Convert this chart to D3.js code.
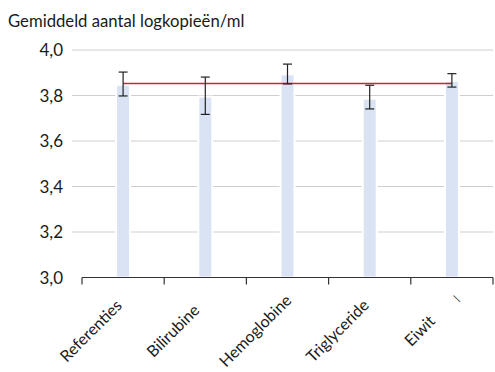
<!DOCTYPE html>
<html>
<head>
<meta charset="utf-8">
<script src="https://cdn.jsdelivr.net/npm/d3@7"></script>
<style>
  html, body { margin: 0; padding: 0; background: #fff; }
  svg { display: block; font-family: Lato, "Noto Sans", sans-serif; }
</style>
</head>
<body>
<svg id="chart" width="495" height="372"></svg>
<script>
// Mean log copies per ml per interfering substance, with error bars
const categories = ["Referenties", "Bilirubine", "Hemoglobine", "Triglyceride", "Eiwit"];
const means      = [3.847, 3.795, 3.893, 3.786, 3.864];
const errLow     = [3.798, 3.717, 3.851, 3.741, 3.837];
const errHigh    = [3.903, 3.881, 3.938, 3.845, 3.896];
const referenceLevel = 3.853;
const yTicks     = [3.0, 3.2, 3.4, 3.6, 3.8, 4.0];
const title      = "Gemiddeld aantal logkopieën/ml";
const strayMark  = "|";

const svg = d3.select("#chart");
const plot = { left: 82, right: 493, top: 50, bottom: 277.5 };

const x = d3.scaleBand().domain(categories).range([plot.left, plot.right]).padding(0);
const y = d3.scaleLinear().domain([3.0, 4.0]).range([plot.bottom, plot.top]);
const fmt = v => d3.format(".1f")(v).replace(".", ",");
const cx = c => x(c) + x.bandwidth() / 2;

// title
svg.append("text")
  .attr("x", 8).attr("y", 27)
  .attr("font-size", 16.7).attr("fill", "#1a1a1a")
  .text(title);

// gridlines
svg.append("g").selectAll("line")
  .data(yTicks.filter(t => t > 3.0))
  .join("line")
  .attr("x1", 72).attr("x2", plot.right)
  .attr("y1", d => y(d)).attr("y2", d => y(d))
  .attr("stroke", "#cfcfcf").attr("stroke-width", 1);

// y tick labels
svg.append("g").selectAll("text")
  .data(yTicks)
  .join("text")
  .attr("x", 63).attr("y", d => y(d))
  .attr("dy", "0.36em")
  .attr("text-anchor", "end")
  .attr("font-size", 17).attr("fill", "#1a1a1a")
  .text(fmt);

// bars
const barW = 14;
svg.append("g").selectAll("rect")
  .data(categories)
  .join("rect")
  .attr("x", d => cx(d) - barW / 2)
  .attr("width", barW)
  .attr("y", (d, i) => y(means[i]))
  .attr("height", (d, i) => y(3.0) - y(means[i]))
  .attr("fill", "#dae3f4")
  .attr("stroke", "#fff").attr("stroke-width", 2);

// reference line
svg.append("line")
  .attr("x1", cx(categories[0]))
  .attr("x2", cx(categories[categories.length - 1]))
  .attr("y1", y(referenceLevel)).attr("y2", y(referenceLevel))
  .attr("stroke", "#e3173e").attr("stroke-width", 1.5);

// error bars
const capW = 9;
const eb = svg.append("g").attr("stroke", "#222").attr("stroke-width", 1.2);
categories.forEach((c, i) => {
  const px = cx(c);
  eb.append("line").attr("x1", px).attr("x2", px).attr("y1", y(errLow[i])).attr("y2", y(errHigh[i]));
  eb.append("line").attr("x1", px - capW / 2).attr("x2", px + capW / 2).attr("y1", y(errLow[i])).attr("y2", y(errLow[i]));
  eb.append("line").attr("x1", px - capW / 2).attr("x2", px + capW / 2).attr("y1", y(errHigh[i])).attr("y2", y(errHigh[i]));
});

// x axis with ticks at band boundaries
const xAxis = svg.append("g").attr("stroke", "#333").attr("stroke-width", 1.2);
xAxis.append("line")
  .attr("x1", plot.left).attr("x2", plot.right)
  .attr("y1", plot.bottom).attr("y2", plot.bottom);
const edges = categories.map(c => x(c)).concat([x.range()[1]]);
xAxis.selectAll("line.tick")
  .data(edges)
  .join("line")
  .attr("class", "tick")
  .attr("x1", d => d).attr("x2", d => d)
  .attr("y1", plot.bottom).attr("y2", plot.bottom + 7);

// rotated category labels, centred under each band
svg.append("g").selectAll("text")
  .data(categories)
  .join("text")
  .attr("transform", d => `translate(${cx(d) - 32},${plot.bottom + 53.5}) rotate(-45)`)
  .attr("text-anchor", "middle")
  .attr("dy", "0.33em")
  .attr("font-size", 16).attr("fill", "#1a1a1a")
  .text(d => d);

// small stray stroke beside the last label
const last = categories[categories.length - 1];
svg.append("text")
  .attr("transform", `translate(${cx(last) + 4.5},${plot.bottom + 21}) rotate(-45)`)
  .attr("text-anchor", "middle")
  .attr("dy", "0.35em")
  .attr("font-size", 10).attr("fill", "#1a1a1a")
  .text(strayMark);
</script>
</body>
</html>
